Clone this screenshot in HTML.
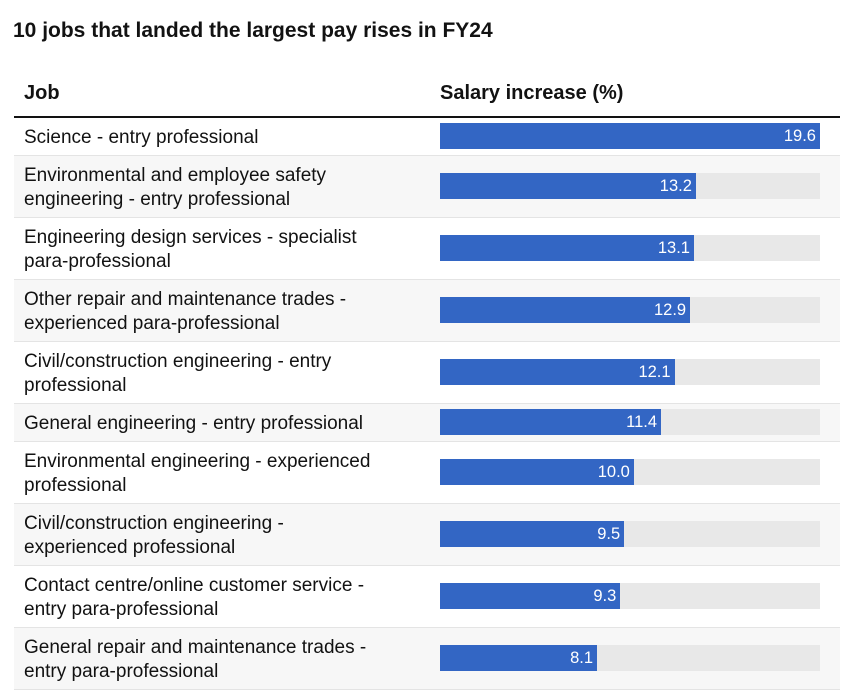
<!DOCTYPE html>
<html><head><meta charset="utf-8"><style>
body{margin:0;width:848px;height:689px;background:#fff;font-family:"Liberation Sans",sans-serif;color:#121212;overflow:hidden;position:relative}
#title{position:absolute;left:13px;top:19px;font-size:21px;font-weight:bold;margin:0}
.hdr{position:absolute;top:82px;font-size:20px;font-weight:bold}
#rule{position:absolute;left:14px;top:116px;width:826px;height:2px;background:#121212}
.row{position:absolute;left:14px;width:826px;border-bottom:1px solid #e4e4e4;box-sizing:border-box}
.lbl{position:absolute;left:10px;font-size:19px;line-height:24px;width:410px;white-space:nowrap}
.track{position:absolute;left:426px;width:380px;height:26px;background:#e8e8e8}
.bar{position:absolute;left:0;top:0;height:26px;background:#3366c4}
.val{position:absolute;right:4px;top:0;line-height:26px;color:#fff;font-size:16.5px}
</style></head><body>
<h1 id="title">10 jobs that landed the largest pay rises in FY24</h1>
<div class="hdr" style="left:24px">Job</div>
<div class="hdr" style="left:440px">Salary increase (%)</div>
<div id="rule"></div>
<div id="rows"></div>
<script>
const jobs=["Science - entry professional","Environmental and employee safety engineering - entry professional","Engineering design services - specialist para-professional","Other repair and maintenance trades - experienced para-professional","Civil/construction engineering - entry professional","General engineering - entry professional","Environmental engineering - experienced professional","Civil/construction engineering - experienced professional","Contact centre/online customer service - entry para-professional","General repair and maintenance trades - entry para-professional"];
const labelLines=[["Science - entry professional"],["Environmental and employee safety","engineering - entry professional"],["Engineering design services - specialist","para-professional"],["Other repair and maintenance trades -","experienced para-professional"],["Civil/construction engineering - entry","professional"],["General engineering - entry professional"],["Environmental engineering - experienced","professional"],["Civil/construction engineering -","experienced professional"],["Contact centre/online customer service -","entry para-professional"],["General repair and maintenance trades -","entry para-professional"]];
const values=[19.6,13.2,13.1,12.9,12.1,11.4,10.0,9.5,9.3,8.1];
const maxVal=19.6;
const trackW=380;
function xScale(v){return v/maxVal*trackW;}
const c=document.getElementById('rows');
let y=118;
values.forEach((v,i)=>{
  const lines=labelLines[i];
  const h=lines.length===1?38:62;
  const row=document.createElement('div');
  row.className='row';
  
  
  row.style.top=y+'px';row.style.height=h+'px';
  row.style.background=i%2===1?'#f7f7f7':'#fff';
  const lbl=document.createElement('div');
  lbl.className='lbl';
  
  
  lbl.innerHTML=lines.join('<br>');
  lbl.style.top=((h-24*lines.length)/2+1)+'px';
  row.appendChild(lbl);
  const tr=document.createElement('div');
  tr.className='track';
  
  
  tr.style.top=((h-26)/2-1)+'px';
  const b=document.createElement('div');
  b.className='bar';
  
  
  b.style.width=xScale(v)+'px';
  const t=document.createElement('span');
  t.className='val';
  
  
  t.textContent=v.toFixed(1);
  b.appendChild(t);tr.appendChild(b);row.appendChild(tr);
  c.appendChild(row);
  y+=h;
});
</script>
</body></html>
